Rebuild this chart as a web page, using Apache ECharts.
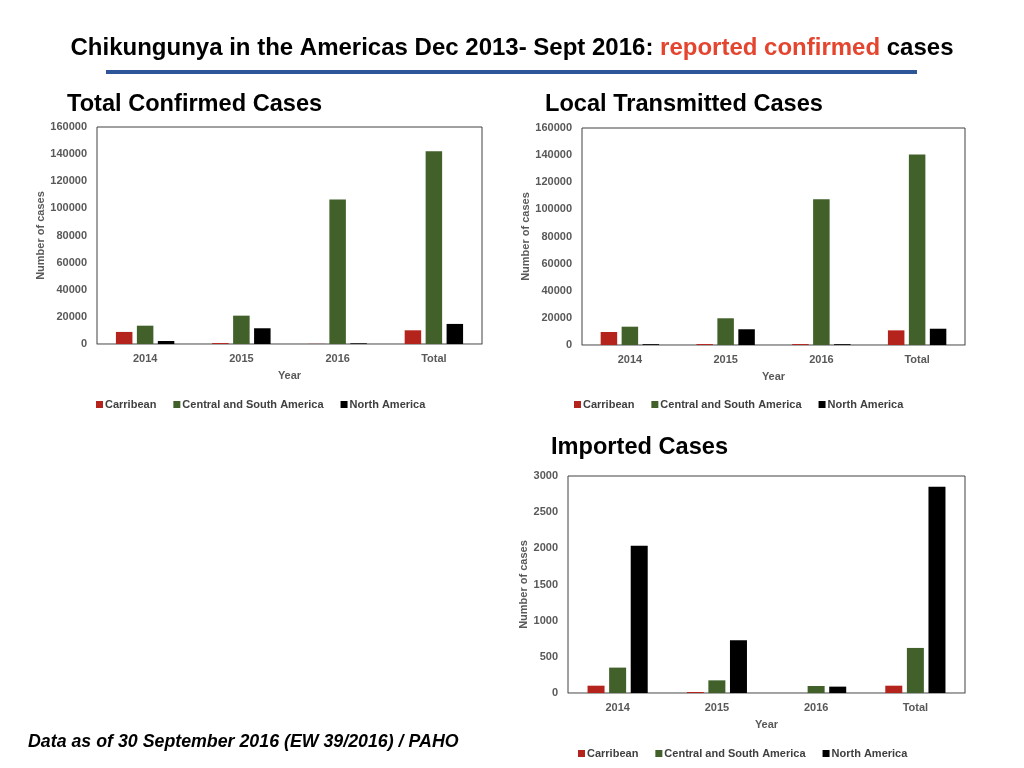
<!DOCTYPE html>
<html>
<head>
<meta charset="utf-8">
<script src="https://cdn.jsdelivr.net/npm/echarts@6/dist/echarts.min.js"></script>
<style>
  html, body { margin: 0; padding: 0; background: #fff; }
  #chart { width: 1024px; height: 768px; }
</style>
</head>
<body>
<div id="chart"></div>
<script>
const categories = ["2014", "2015", "2016", "Total"];
const seriesNames = ["Carribean", "Central and South America", "North America"];
const seriesColors = ["#b5231d", "#41602a", "#000000"];

const totalCarribean = [8900, 700, 100, 10100];
const totalCSA = [13500, 20900, 106500, 142200];
const totalNA = [2200, 11600, 500, 14800];

const localCarribean = [9600, 700, 700, 10800];
const localCSA = [13500, 19700, 107500, 140500];
const localNA = [600, 11600, 600, 12000];

const importedCarribean = [101, 14, 0, 101];
const importedCSA = [351, 175, 97, 623];
const importedNA = [2035, 729, 88, 2852];

const sans = "'Liberation Sans', Arial, Helvetica, sans-serif";

const grids = [
  { left: 97, top: 127, width: 385, height: 217 },
  { left: 582, top: 128, width: 383, height: 217 },
  { left: 568, top: 476, width: 397, height: 217 }
];
const yMax = [160000, 160000, 3000];
const yStep = [20000, 20000, 500];
const nameGaps = [49, 51, 38];
const barWidths = [16.5, 16.5, 17];
const chartData = [
  [totalCarribean, totalCSA, totalNA],
  [localCarribean, localCSA, localNA],
  [importedCarribean, importedCSA, importedNA]
];
const legendPos = [
  { left: 91, top: 394 },
  { left: 569, top: 394 },
  { left: 573, top: 743 }
];

const axisText = { color: "#595959", fontSize: 11, fontWeight: "bold", fontFamily: sans };
const headStyle = { fontFamily: sans, fontSize: 23.6, fontWeight: "bold", color: "#000" };

const option = {
  animation: false,
  backgroundColor: "#ffffff",
  title: [
    {
      text: "{b|Chikungunya in the Americas Dec 2013- Sept 2016: }{r|reported confirmed}{b| cases}",
      left: "center",
      top: 31,
      textStyle: {
        rich: {
          b: { fontFamily: sans, fontSize: 24, fontWeight: "bold", color: "#000" },
          r: { fontFamily: sans, fontSize: 24, fontWeight: "bold", color: "#e3452f" }
        }
      }
    },
    { text: "Total Confirmed Cases", left: 62, top: 87, textStyle: headStyle },
    { text: "Local Transmitted Cases", left: 540, top: 87, textStyle: headStyle },
    { text: "Imported Cases", left: 546, top: 430, textStyle: headStyle },
    { text: "Data as of 30 September 2016 (EW 39/2016) / PAHO", left: 23, top: 728, textStyle: { fontFamily: sans, fontSize: 17.8, fontWeight: "bold", fontStyle: "italic", color: "#000" } }
  ],
  graphic: [
    { type: "rect", shape: { x: 106, y: 70, width: 811, height: 4 }, style: { fill: "#2d5597" } }
  ],
  legend: legendPos.map(p => ({
    left: p.left,
    top: p.top,
    data: seriesNames,
    icon: "rect",
    itemWidth: 7,
    itemHeight: 7,
    itemGap: 17,
    textStyle: { color: "#404040", fontSize: 11, fontWeight: "bold", fontFamily: sans, padding: [0, 0, 0, -3] },
    selectedMode: false
  })),
  grid: grids.map(g => Object.assign({ show: true, borderColor: "#404040", borderWidth: 1, backgroundColor: "transparent" }, g)),
  xAxis: grids.map((g, i) => ({
    type: "category",
    gridIndex: i,
    data: categories,
    name: "Year",
    nameLocation: "middle",
    nameGap: 26,
    nameTextStyle: axisText,
    axisLine: { lineStyle: { color: "#a6a6a6", width: 1 } },
    axisTick: { show: false },
    axisLabel: Object.assign({ margin: 9 }, axisText)
  })),
  yAxis: grids.map((g, i) => ({
    type: "value",
    gridIndex: i,
    min: 0,
    max: yMax[i],
    interval: yStep[i],
    name: "Number of cases",
    nameLocation: "middle",
    nameGap: nameGaps[i],
    nameTextStyle: axisText,
    axisLine: { show: false },
    axisTick: { show: false },
    splitLine: { show: false },
    axisLabel: Object.assign({ margin: 10, formatter: v => String(v) }, axisText)
  })),
  series: []
};

chartData.forEach((groups, gi) => {
  groups.forEach((values, si) => {
    option.series.push({
      type: "bar",
      name: seriesNames[si],
      xAxisIndex: gi,
      yAxisIndex: gi,
      data: values,
      barWidth: barWidths[gi],
      barGap: "27%",
      itemStyle: { color: seriesColors[si] }
    });
  });
});

const chart = echarts.init(document.getElementById("chart"), null, { renderer: "canvas" });
chart.setOption(option);
</script>
</body>
</html>
